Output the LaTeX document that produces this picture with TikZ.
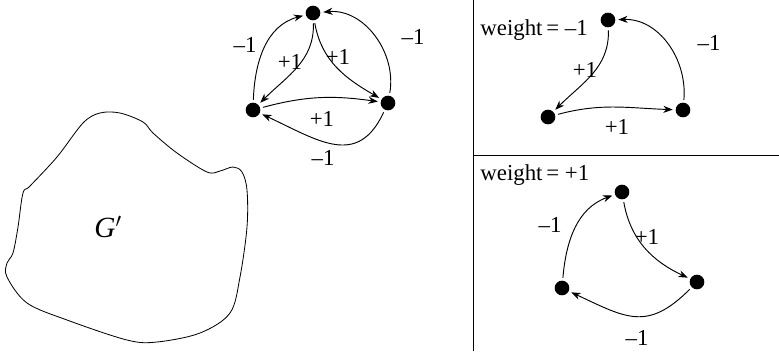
\documentclass[tikz,border=0pt]{standalone}
\usepackage{fontspec}
\setmainfont{Liberation Serif}
\usetikzlibrary{arrows.meta}

\begin{document}
\begin{tikzpicture}[x=0.03cm,y=-0.03cm,
    dot/.style={circle,fill=black,inner sep=0pt,minimum size=0.44cm,outer sep=2.5pt},
    arc/.style={-{Stealth[length=8pt,width=6pt]},line width=0.8pt},
    wt/.style={font=\fontsize{19.5}{22}\selectfont,inner sep=1pt}]
\useasboundingbox (0,0) rectangle (779,351);

% the region G'
\draw[line width=0.7pt] plot[smooth cycle,tension=0.55] coordinates {
 (83,123) (100,113) (120,113) (143,122) (153,133) (177,153) (207,172)
 (220,171) (233,167) (242,172) (247,190) (247,227) (240,277) (230,313)
 (200,333) (157,342) (127,340) (67,320) (27,303) (7,277) (7,263)
 (13,253) (18,227) (23,193) (30,186) (57,157)};
\node[wt,font=\fontsize{25}{28}\selectfont] (gp) at (108,227) {\textit{G}$'$};

% the triangle
\node[dot] (t) at (313,13) {};
\node[dot] (l) at (253,110) {};
\node[dot] (r) at (388,103) {};
\draw[arc] (l) to[out=88,in=195] (t);
\draw[arc] (t) to[out=-88,in=45] (l);
\draw[arc] (t) to[out=-80,in=150] (r);
\draw[arc] (r) to[out=80,in=5] (t);
\draw[arc] (l) to[out=15,in=172] (r);
\draw[arc] (r) to[out=-115,in=-25,looseness=1.3] (l);
\node[wt] (a1) at (245,45) {–1};
\node[wt] (a2) at (290,62) {+1};
\node[wt] (a3) at (338,57) {+1};
\node[wt] (a4) at (413,37) {–1};
\node[wt] (a5) at (322,119) {+1};
\node[wt] (a6) at (323,158) {–1};

% the two panels
\coordinate (vtop) at (473,0);
\coordinate (vbot) at (473,351);
\coordinate (hl) at (473,155);
\coordinate (hr) at (779,155);
\draw[line width=0.7pt] (vtop) -- (vbot);
\draw[line width=0.7pt] (hl) -- (hr);

% weight -1
\node[wt,anchor=west] (k1) at (479,30) {weight\,= –1};
\node[dot] (t1) at (608,20) {};
\node[dot] (l1) at (548,117) {};
\node[dot] (r1) at (683,110) {};
\draw[arc] (t1) to[out=-88,in=45] (l1);
\draw[arc] (l1) to[out=15,in=178] (r1);
\draw[arc] (r1) to[out=85,in=2] (t1);
\node[wt] (b1) at (585,70) {+1};
\node[wt] (b2) at (617,127) {+1};
\node[wt] (b3) at (709,43) {–1};

% weight +1
\node[wt,anchor=west] (k2) at (479,175) {weight\,= +1};
\node[dot] (t2) at (622,192) {};
\node[dot] (l2) at (562,288) {};
\node[dot] (r2) at (697,282) {};
\draw[arc] (l2) to[out=85,in=200] (t2);
\draw[arc] (t2) to[out=-80,in=155] (r2);
\draw[arc] (r2) to[out=-135,in=-25,looseness=1.3] (l2);
\node[wt] (c1) at (550,225) {–1};
\node[wt] (c2) at (647,237) {+1};
\node[wt] (c3) at (637,338) {–1};
\end{tikzpicture}
\end{document}
